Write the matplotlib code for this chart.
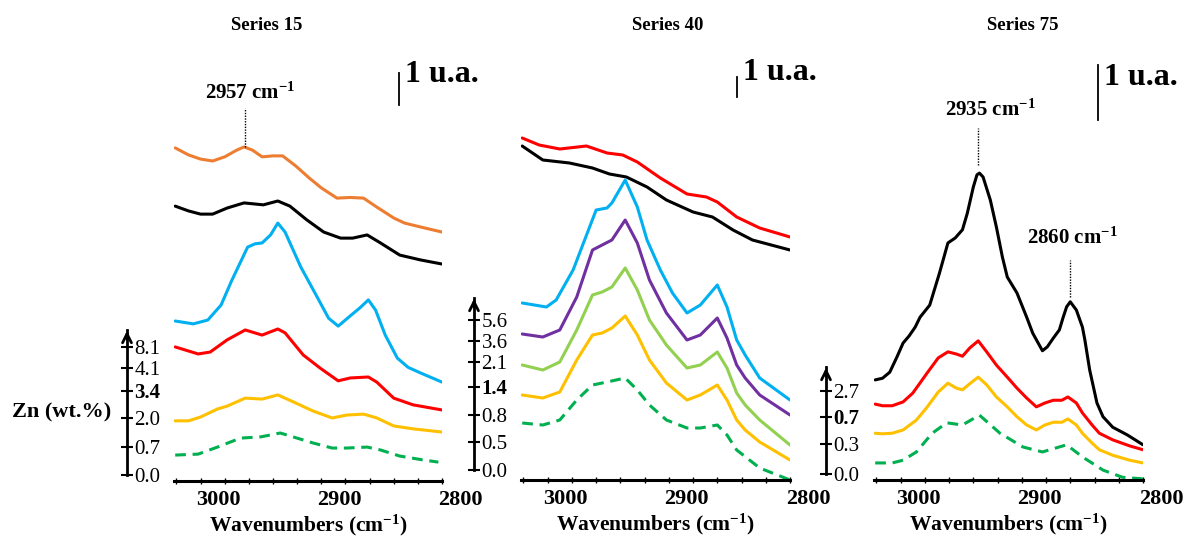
import matplotlib.pyplot as plt
import matplotlib.transforms as mtransforms
from matplotlib.ticker import FixedLocator, MultipleLocator

plt.rcParams['font.family'] = ['Liberation Serif', 'DejaVu Serif']
plt.rcParams['mathtext.fontset'] = 'custom'
plt.rcParams['mathtext.rm'] = 'Liberation Serif:bold'
plt.rcParams['mathtext.it'] = 'Liberation Serif:bold:italic'
plt.rcParams['mathtext.bf'] = 'Liberation Serif:bold'

# ---------------- Series 15 (absorbance in u.a., offset stacked) ----------------
wn15_orange = [3021, 3010, 3000, 2990, 2980, 2970, 2964, 2957, 2949, 2940, 2932, 2921, 2910, 2900, 2887, 2876, 2865, 2854, 2840, 2831, 2818, 2800]
a15_orange = [10.41, 10.19, 10.06, 10.0, 10.13, 10.34, 10.44, 10.34, 10.13, 10.16, 10.16, 9.84, 9.47, 9.16, 8.84, 8.86, 8.84, 8.56, 8.22, 8.06, 7.94, 7.78]
wn15_black = [3021, 3010, 3000, 2990, 2978, 2964, 2948, 2936, 2926, 2912, 2898, 2884, 2874, 2862, 2851, 2835, 2818, 2800]
a15_black = [8.59, 8.44, 8.34, 8.34, 8.53, 8.69, 8.63, 8.75, 8.59, 8.16, 7.78, 7.59, 7.59, 7.69, 7.44, 7.06, 6.91, 6.78]
wn15_blue = [3021, 3006, 2994, 2983, 2974, 2961, 2955, 2949, 2942, 2936, 2930, 2917, 2903, 2894, 2886, 2876, 2868, 2861, 2855, 2847, 2837, 2828, 2818, 2800]
a15_blue = [5.0, 4.91, 5.03, 5.5, 6.28, 7.31, 7.41, 7.44, 7.69, 8.06, 7.78, 6.69, 5.72, 5.09, 4.84, 5.16, 5.41, 5.66, 5.34, 4.56, 3.84, 3.55, 3.38, 3.09]
wn15_red = [3021, 3002, 2992, 2978, 2963, 2949, 2936, 2930, 2915, 2901, 2886, 2876, 2861, 2854, 2840, 2824, 2800]
a15_red = [4.19, 3.97, 4.03, 4.41, 4.72, 4.56, 4.75, 4.63, 3.94, 3.53, 3.13, 3.22, 3.25, 3.09, 2.59, 2.38, 2.22]
wn15_yellow = [3021, 3010, 3000, 2986, 2978, 2963, 2949, 2936, 2923, 2907, 2891, 2879, 2865, 2854, 2840, 2824, 2800]
a15_yellow = [1.88, 1.88, 2.0, 2.25, 2.34, 2.59, 2.56, 2.69, 2.47, 2.19, 1.97, 2.06, 2.09, 1.97, 1.72, 1.63, 1.53]
wn15_green = [3021, 3002, 2986, 2967, 2950, 2934, 2920, 2907, 2891, 2879, 2862, 2851, 2835, 2816, 2803]
a15_green = [0.81, 0.84, 1.06, 1.34, 1.38, 1.5, 1.34, 1.19, 1.03, 1.03, 1.06, 0.97, 0.78, 0.66, 0.59]
zn15_labels = ['0.0', '0.7', '2.0', '3.4', '4.1', '8.1']

# ---------------- Series 40 ----------------
wn40_red = [3021, 3007, 2990, 2968, 2951, 2938, 2926, 2907, 2885, 2869, 2860, 2844, 2825, 2800]
a40_red = [17.1, 16.75, 16.55, 16.7, 16.35, 16.25, 15.9, 15.1, 14.3, 14.15, 13.9, 13.15, 12.6, 12.15]
wn40_black = [3021, 3004, 2982, 2963, 2949, 2935, 2918, 2902, 2880, 2864, 2847, 2831, 2800]
a40_black = [16.7, 16.0, 15.85, 15.6, 15.3, 15.15, 14.65, 14.0, 13.4, 13.15, 12.5, 12.0, 11.5]
wn40_blue = [3021, 3001, 2993, 2979, 2960, 2951, 2947, 2936, 2926, 2918, 2907, 2897, 2885, 2874, 2860, 2852, 2844, 2837, 2825, 2800]
a40_blue = [8.85, 8.65, 9.0, 10.5, 13.5, 13.6, 13.85, 15.0, 13.65, 12.0, 10.5, 9.35, 8.35, 8.75, 9.75, 8.65, 7.0, 6.25, 5.1, 4.0]
wn40_purple = [3021, 3004, 2990, 2976, 2963, 2955, 2947, 2936, 2926, 2916, 2902, 2885, 2874, 2860, 2852, 2844, 2837, 2825, 2800]
a40_purple = [7.3, 7.15, 7.5, 9.15, 11.5, 11.75, 12.0, 13.0, 11.85, 10.0, 8.35, 7.0, 7.25, 8.1, 7.1, 5.75, 5.1, 4.25, 3.25]
wn40_lgreen = [3021, 3004, 2990, 2976, 2963, 2955, 2947, 2936, 2926, 2916, 2902, 2885, 2874, 2860, 2852, 2844, 2837, 2825, 2800]
a40_lgreen = [5.75, 5.5, 5.9, 7.5, 9.25, 9.4, 9.65, 10.6, 9.5, 8.0, 6.75, 5.6, 5.75, 6.4, 5.6, 4.35, 3.75, 3.0, 1.75]
wn40_yellow = [3021, 3004, 2990, 2976, 2963, 2955, 2947, 2936, 2926, 2916, 2902, 2885, 2874, 2860, 2852, 2844, 2837, 2825, 2800]
a40_yellow = [4.25, 4.1, 4.4, 6.0, 7.25, 7.35, 7.6, 8.2, 7.25, 6.0, 4.85, 4.0, 4.25, 4.75, 4.0, 3.0, 2.5, 1.9, 1.0]
wn40_green = [3021, 3004, 2990, 2976, 2963, 2951, 2936, 2926, 2916, 2902, 2885, 2874, 2860, 2852, 2844, 2825, 2800]
a40_green = [2.85, 2.75, 3.0, 4.0, 4.75, 4.9, 5.1, 4.5, 3.75, 3.0, 2.6, 2.6, 2.75, 2.25, 1.5, 0.6, 0.0]
zn40_labels = ['0.0', '0.5', '0.8', '1.4', '2.1', '3.6', '5.6']

# ---------------- Series 75 ----------------
wn75_black = [3021, 3015, 3009, 3003, 2998, 2993, 2988, 2984, 2976, 2968, 2961, 2955, 2949, 2945, 2940, 2937, 2935, 2932, 2926, 2921, 2916, 2912, 2904, 2896, 2891, 2883, 2879, 2874, 2869, 2866, 2863, 2860, 2855, 2850, 2848, 2844, 2838, 2833, 2825, 2813, 2800]
a75_black = [1.82, 1.85, 1.96, 2.24, 2.49, 2.62, 2.78, 2.96, 3.18, 3.76, 4.31, 4.4, 4.55, 4.85, 5.33, 5.55, 5.58, 5.51, 5.09, 4.6, 4.05, 3.69, 3.4, 2.96, 2.67, 2.35, 2.42, 2.58, 2.73, 2.95, 3.15, 3.24, 3.09, 2.78, 2.55, 2.0, 1.4, 1.15, 0.96, 0.82, 0.64]
wn75_red = [3021, 3015, 3007, 2998, 2990, 2978, 2969, 2961, 2954, 2949, 2943, 2936, 2929, 2921, 2912, 2904, 2896, 2888, 2881, 2874, 2867, 2862, 2855, 2850, 2842, 2836, 2825, 2811, 2800]
a75_red = [1.38, 1.35, 1.35, 1.42, 1.58, 1.95, 2.22, 2.33, 2.29, 2.25, 2.4, 2.53, 2.33, 2.09, 1.87, 1.67, 1.49, 1.33, 1.4, 1.45, 1.45, 1.51, 1.4, 1.22, 1.0, 0.85, 0.73, 0.62, 0.55]
wn75_yellow = [3021, 3015, 3007, 2998, 2987, 2978, 2969, 2961, 2954, 2949, 2943, 2936, 2929, 2921, 2912, 2904, 2896, 2888, 2881, 2874, 2867, 2862, 2855, 2850, 2842, 2836, 2825, 2811, 2800]
a75_yellow = [0.85, 0.84, 0.85, 0.91, 1.09, 1.33, 1.6, 1.76, 1.67, 1.64, 1.75, 1.87, 1.73, 1.51, 1.33, 1.15, 1.0, 0.91, 1.0, 1.05, 1.05, 1.11, 1.0, 0.85, 0.67, 0.55, 0.45, 0.36, 0.31]
wn75_green = [3021, 3007, 2998, 2987, 2974, 2962, 2949, 2935, 2918, 2899, 2883, 2863, 2850, 2833, 2817, 2800]
a75_green = [0.31, 0.31, 0.36, 0.51, 0.85, 1.04, 1.0, 1.18, 0.85, 0.6, 0.51, 0.64, 0.42, 0.18, 0.05, 0.02]
zn75_labels = ['0.0', '0.3', '0.7', '2.7']

W, H = 1187, 541
fig = plt.figure(figsize=(W / 100, H / 100), dpi=100)


def fbox(x0, y_top, x1, y_bot):
    # pixel box -> figure fraction rect
    return [x0 / W, 1 - y_bot / H, (x1 - x0) / W, (y_bot - y_top) / H]


ORANGE, BLACK, BLUE, RED = '#ED7D31', '#000000', '#00B0F0', '#FF0000'
YELLOW, GREEN, PURPLE, LGREEN = '#FFC000', '#00B050', '#7030A0', '#92D050'
LW = 2.2
DASH = (0, (3.5, 2.2))

panels = [
    dict(box=(174, 40, 442, 481), ytop=441 / 32, title='Series 15', tx=267,
         curves=[(wn15_orange, a15_orange, ORANGE, '-'), (wn15_black, a15_black, BLACK, '-'),
                 (wn15_blue, a15_blue, BLUE, '-'), (wn15_red, a15_red, RED, '-'),
                 (wn15_yellow, a15_yellow, YELLOW, '-'), (wn15_green, a15_green, GREEN, DASH)],
         bar=(2836, 11.75), zn=(127, [475, 447, 418, 391, 368, 347], 330, zn15_labels, 3)),
    dict(box=(521, 40, 790, 480), ytop=440 / 20, title='Series 40', tx=668,
         curves=[(wn40_red, a40_red, RED, '-'), (wn40_black, a40_black, BLACK, '-'),
                 (wn40_blue, a40_blue, BLUE, '-'), (wn40_purple, a40_purple, PURPLE, '-'),
                 (wn40_lgreen, a40_lgreen, LGREEN, '-'), (wn40_yellow, a40_yellow, YELLOW, '-'),
                 (wn40_green, a40_green, GREEN, DASH)],
         bar=(2844, 19.15), zn=(474, [470, 442, 415, 387, 362, 341, 320], 298, zn40_labels, 3)),
    dict(box=(874, 40, 1143, 480), ytop=440 / 55, title='Series 75', tx=1023,
         curves=[(wn75_black, a75_black, BLACK, '-'), (wn75_red, a75_red, RED, '-'),
                 (wn75_yellow, a75_yellow, YELLOW, '-'), (wn75_green, a75_green, GREEN, DASH)],
         bar=(2837, 6.55), zn=(826, [474, 444, 417, 391], 367, zn75_labels, 2)),
]

axes = []
for p in panels:
    ax = fig.add_axes(fbox(*p['box']))
    for wn, a, c, ls in p['curves']:
        ax.plot(wn, a, color=c, lw=LW, ls=ls, solid_capstyle='round', solid_joinstyle='round')
    ax.set_xlim(3022, 2800)
    ax.set_ylim(0, p['ytop'])
    for s in ['left', 'right', 'top']:
        ax.spines[s].set_visible(False)
    ax.spines['bottom'].set_linewidth(2.2)
    ax.set_yticks([])
    ax.xaxis.set_major_locator(FixedLocator([3000, 2900, 2800]))
    ax.xaxis.set_minor_locator(MultipleLocator(20))
    ax.tick_params(axis='x', which='both', direction='inout', length=5, width=1, pad=4)
    ax.tick_params(axis='x', labelsize=16)
    shift = mtransforms.ScaledTranslation(0.18, 0, fig.dpi_scale_trans)
    for lab in ax.get_xticklabels():
        lab.set_fontweight('bold')
        lab.set_transform(lab.get_transform() + shift)
    ax.set_xlabel('Wavenumbers (cm$^{-1}$)', fontsize=15.5, fontweight='bold', labelpad=2)

    # scale bar: 1 u.a.
    bx, by = p['bar']
    ax.plot([bx, bx], [by, by + 1], color='black', lw=1.3, clip_on=False)
    ax.text(bx - 5, by + 0.5, '1 u.a.', fontsize=23, fontweight='bold', va='bottom', ha='left',
            clip_on=False)

    fig.text(p['tx'] / W, 1 - 25 / H, p['title'], fontsize=13.5, fontweight='bold',
             ha='center', va='center')

    # Zn (wt.%) arrow axis
    zx, zticks, ztop, zlabels, zbold = p['zn']
    zax = fig.add_axes(fbox(zx, ztop, zx + 0.5, zticks[0]))
    zax.set_ylim(zticks[0], ztop)
    zax.set_xlim(0, 1)
    for s in ['right', 'top', 'bottom']:
        zax.spines[s].set_visible(False)
    zax.spines['left'].set_linewidth(2)
    zax.set_xticks([])
    zax.set_yticks(zticks)
    zax.set_yticklabels(zlabels)
    zax.tick_params(axis='y', direction='inout', length=8, width=1.5, left=True, right=False,
                    labelleft=False, labelright=True, labelsize=15, pad=1)
    zax.get_yticklabels()[zbold].set_fontweight('bold')
    zax.annotate('', xy=(0, ztop - 2), xytext=(0, ztop + 12), xycoords=('axes fraction', 'data'),
                 arrowprops=dict(arrowstyle='->', lw=2, mutation_scale=16, color='black'),
                 annotation_clip=False)
    zax.patch.set_visible(False)
    axes.append(ax)

fig.text(12 / W, 1 - 412 / H, 'Zn (wt.%)', fontsize=16, fontweight='bold', ha='left', va='center')

# peak markers
ax1, ax2, ax3 = axes
ax1.plot([2963, 2963], [10.44, 11.66], color='black', lw=1, ls=(0, (1, 1)))
ax1.text(2959, 12.13, '2957 cm$^{-1}$', fontsize=15, fontweight='bold', ha='center', va='center')
ax3.plot([2936, 2936], [5.73, 6.4], color='black', lw=1, ls=(0, (1, 1)))
ax3.text(2926, 6.73, '2935 cm$^{-1}$', fontsize=15, fontweight='bold', ha='center', va='center')
ax3.plot([2860, 2860], [3.33, 4.0], color='black', lw=1, ls=(0, (1, 1)))
ax3.text(2858, 4.4, '2860 cm$^{-1}$', fontsize=15, fontweight='bold', ha='center', va='center')

fig.savefig('out.png', dpi=100)
